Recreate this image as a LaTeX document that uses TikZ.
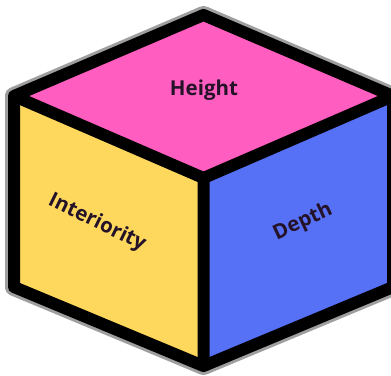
\documentclass[tikz,border=0pt]{standalone}
\usepackage{fontspec}
\setmainfont{Open Sans}
\usepackage{xcolor}
\definecolor{toppink}{RGB}{255,94,192}
\definecolor{leftyellow}{RGB}{254,216,92}
\definecolor{rightblue}{RGB}{86,112,246}
\definecolor{labeltext}{RGB}{36,18,40}

\begin{document}
\begin{tikzpicture}[x=1pt, y=-1pt,
  face/.style={draw=black, line width=12pt, line join=round},
  halo/.style={draw=gray!75, line width=18pt, line join=round},
  facelabel/.style={font=\bfseries\fontsize{20.5}{24}\selectfont, text=labeltext, inner sep=0pt}
]
\useasboundingbox (0,0) rectangle (391,375);

% corners of the cube
\coordinate (T) at (203.5,15);
\coordinate (UL) at (14,96);
\coordinate (UR) at (393,96);
\coordinate (C) at (203.5,178);
\coordinate (LL) at (14,287);
\coordinate (LR) at (393,287);
\coordinate (B) at (203.5,366);

% grey rim round the outline
\draw[halo] (T) -- (UR) -- (LR) -- (B) -- (LL) -- (UL) -- cycle;

\fill[toppink] (T) -- (UR) -- (C) -- (UL) -- cycle;
\fill[leftyellow] (UL) -- (C) -- (B) -- (LL) -- cycle;
\fill[rightblue] (C) -- (UR) -- (LR) -- (B) -- cycle;

\draw[face] (T) -- (UR) -- (LR) -- (B) -- (LL) -- (UL) -- cycle;
\draw[face] (UL) -- (C) -- (UR) (C) -- (B);

\node[facelabel] (height) at (204,90) {Height};
\node[facelabel, rotate=-26] (interiority) at (97,223) {Interiority};
\node[facelabel, rotate=25] (depth) at (303,222) {Depth};

\end{tikzpicture}
\end{document}
